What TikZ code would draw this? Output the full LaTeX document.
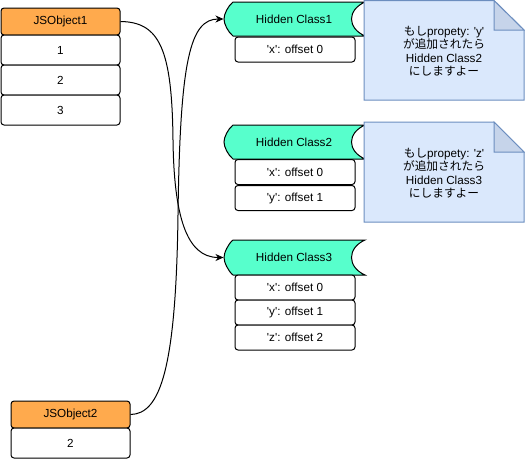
\documentclass[tikz,border=0pt]{standalone}
\usepackage{fontspec}
\setmainfont{Liberation Sans}[Ligatures=TeXOff]
\newfontfamily\cjk{Noto Sans CJK JP}
\usetikzlibrary{arrows.meta}
\definecolor{objorange}{HTML}{FFAA4D}
\definecolor{hcgreen}{HTML}{57FFCC}
\definecolor{notefill}{HTML}{DAE8FC}
\definecolor{noteline}{HTML}{6C8EBF}
\definecolor{notefold}{HTML}{C6D4EA}

\begin{document}
\begin{tikzpicture}[x=1pt,y=-1pt,line width=1pt,
  every node/.style={font=\fontsize{11.7}{13.5}\selectfont},
  objhead/.style={draw,fill=objorange,rounded corners=3pt,minimum width=119pt,minimum height=27pt,inner sep=0pt},
  objrow/.style={draw,fill=white,rounded corners=3pt,minimum width=119pt,minimum height=30pt,inner sep=0pt},
  hcshape/.style={draw,fill=hcgreen},
  hclabel/.style={minimum width=140pt,minimum height=34pt,inner sep=0pt},
  hcrow/.style={draw,fill=white,rounded corners=3pt,minimum width=120pt,minimum height=25pt,inner sep=0pt},
  noteshape/.style={draw=noteline,fill=notefill},
  foldshape/.style={draw=noteline,fill=notefold},
  notetext/.style={align=center},
  link/.style={-{Stealth[length=8pt,width=7pt,inset=2.5pt]}}]
\useasboundingbox (0,0) rectangle (525,459);

% JSObject1 and its slots
\node[objhead] (jso1) at (60.5,21.5) {JSObject1};
\node[objrow] (jso1a) at (60.5,50) {1};
\node[objrow] (jso1b) at (60.5,80) {2};
\node[objrow] (jso1c) at (60.5,110) {3};

% JSObject2 and its slot
\node[objhead] (jso2) at (70.5,414.5) {JSObject2};
\node[objrow] (jso2a) at (70.5,443) {2};

% Hidden class bodies
\draw[hcshape] (233,2) -- (365,2) .. controls (347,10) and (347,28) .. (365,36) -- (233,36)
  .. controls (228,32) and (224,24) .. (224,19) .. controls (224,14) and (228,6) .. (233,2) -- cycle;
\draw[hcshape] (233,125) -- (365,125) .. controls (347,133) and (347,151) .. (365,159) -- (233,159)
  .. controls (228,155) and (224,147) .. (224,142) .. controls (224,137) and (228,129) .. (233,125) -- cycle;
\draw[hcshape] (233,240) -- (365,240) .. controls (347,248) and (347,267) .. (365,275) -- (233,275)
  .. controls (228,271) and (224,262) .. (224,257.5) .. controls (224,253) and (228,244) .. (233,240) -- cycle;

% Hidden class titles
\node[hclabel] (hc1) at (294,19) {Hidden Class1};
\node[hclabel] (hc2) at (294,142) {Hidden Class2};
\node[hclabel] (hc3) at (294,257.5) {Hidden Class3};

% Hidden class offsets
\node[hcrow] (hc1x) at (295,49.5) {'x': offset 0};
\node[hcrow] (hc2x) at (295,172) {'x': offset 0};
\node[hcrow] (hc2y) at (295,198) {'y': offset 1};
\node[hcrow] (hc3x) at (295,287.5) {'x': offset 0};
\node[hcrow] (hc3y) at (295,312.5) {'y': offset 1};
\node[hcrow] (hc3z) at (295,337.5) {'z': offset 2};

% Notes
\draw[noteshape] (364,0.5) -- (494,0.5) -- (524,30) -- (524,100) -- (364,100) -- cycle;
\draw[foldshape] (494,0.5) -- (494,30) -- (524,30) -- cycle;
\node[notetext] (note1) at (444,51) {{\cjk もし}propety: 'y'\\{\cjk が追加されたら}\\Hidden Class2\\{\cjk にしますよー}};

\draw[noteshape] (364,122) -- (494,122) -- (524,152) -- (524,222) -- (364,222) -- cycle;
\draw[foldshape] (494,122) -- (494,152) -- (524,152) -- cycle;
\node[notetext] (note2) at (444,173) {{\cjk もし}propety: 'z'\\{\cjk が追加されたら}\\Hidden Class3\\{\cjk にしますよー}};

% Links from objects to hidden classes
\draw[link] (jso1.east) .. controls (160,22) and (172,50) .. (173,140)
  .. controls (174,215) and (186,257.5) .. (hc3.west);
\draw[link] (jso2.east) .. controls (160,414) and (176,370) .. (178,215)
  .. controls (180,60) and (190,19) .. (hc1.west);
\end{tikzpicture}
\end{document}
